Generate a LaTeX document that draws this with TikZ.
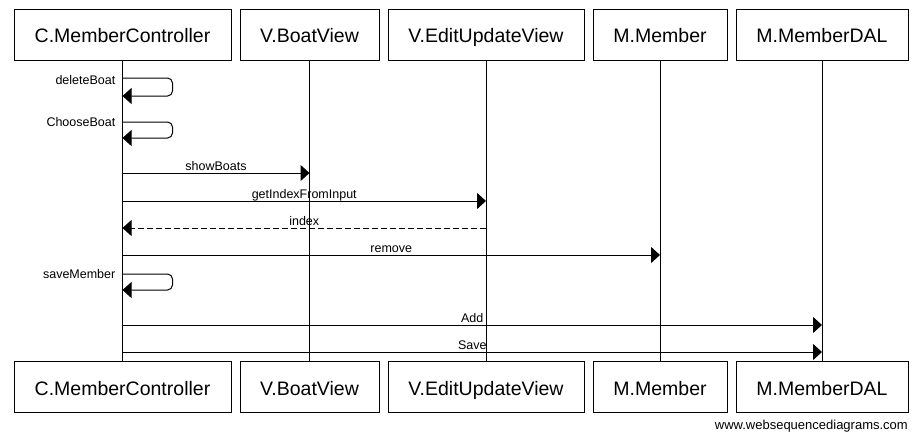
\documentclass[tikz,border=0pt]{standalone}
\usepackage{fontspec}
\setmainfont{Liberation Sans}
\usetikzlibrary{arrows.meta}

\begin{document}
\begin{tikzpicture}[x=1pt, y=-1pt,
    actor/.style={draw, line width=1pt, minimum height=51pt, inner sep=0pt,
        text height=16pt, text depth=0pt, font=\fontsize{19.5}{20}\selectfont},
    life/.style={line width=1pt},
    msg/.style={line width=1pt, -{Triangle[length=9pt, width=16pt]}},
    reply/.style={msg, dash pattern=on 6pt off 3pt},
    lbl/.style={font=\fontsize{12.5}{13}\selectfont, anchor=base, yshift=3pt, inner sep=0pt},
    selflbl/.style={font=\fontsize{12.5}{13}\selectfont, anchor=east, inner sep=0pt}]
    \useasboundingbox (0,0) rectangle (923,437);
    % participants
    \node[actor, minimum width=217pt] (ctrlT) at (122.5,34.5) {C.MemberController};
    \node[actor, minimum width=139pt] (boatT) at (309.5,34.5) {V.BoatView};
    \node[actor, minimum width=196pt] (editT) at (486,34.5) {V.EditUpdateView};
    \node[actor, minimum width=134pt] (membT) at (660,34.5) {M.Member};
    \node[actor, minimum width=172pt] (dalT) at (822,34.5) {M.MemberDAL};
    \node[actor, minimum width=217pt] (ctrlB) at (122.5,387) {C.MemberController};
    \node[actor, minimum width=139pt] (boatB) at (309.5,387) {V.BoatView};
    \node[actor, minimum width=196pt] (editB) at (486,387) {V.EditUpdateView};
    \node[actor, minimum width=134pt] (membB) at (660,387) {M.Member};
    \node[actor, minimum width=172pt] (dalB) at (822,387) {M.MemberDAL};
    % lifelines
    \draw[life] (ctrlT) -- (ctrlB);
    \draw[life] (boatT) -- (boatB);
    \draw[life] (editT) -- (editB);
    \draw[life] (membT) -- (membB);
    \draw[life] (dalT) -- (dalB);
    % self messages
    \coordinate (del1) at (ctrlT |- 0,78);
    \coordinate (del2) at (ctrlT |- 0,96);
    \draw[msg, rounded corners=5pt] (del1) -- ++(50,0) -- ++(0,18) -- (del2);
    \node[selflbl] (delL) at ([xshift=-7pt, yshift=-2pt]del1) {deleteBoat};
    \coordinate (cho1) at (ctrlT |- 0,122);
    \coordinate (cho2) at (ctrlT |- 0,138);
    \draw[msg, rounded corners=5pt] (cho1) -- ++(50,0) -- ++(0,16) -- (cho2);
    \node[selflbl] (choL) at ([xshift=-7pt]cho1) {ChooseBoat};
    \coordinate (sav1) at (ctrlT |- 0,274);
    \coordinate (sav2) at (ctrlT |- 0,290);
    \draw[msg, rounded corners=5pt] (sav1) -- ++(50,0) -- ++(0,16) -- (sav2);
    \node[selflbl] (savL) at ([xshift=-7pt]sav1) {saveMember};
    % calls
    \coordinate (show1) at (ctrlT |- 0,173);
    \coordinate (show2) at (boatT |- 0,173);
    \path[msg] (show1) edge node[lbl] {showBoats} (show2);
    \coordinate (get1) at (ctrlT |- 0,201);
    \coordinate (get2) at (editT |- 0,201);
    \path[msg] (get1) edge node[lbl] {getIndexFromInput} (get2);
    \coordinate (idx1) at (editT |- 0,228);
    \coordinate (idx2) at (ctrlT |- 0,228);
    \path[reply] (idx1) edge node[lbl] {index} (idx2);
    \coordinate (rem1) at (ctrlT |- 0,255);
    \coordinate (rem2) at (membT |- 0,255);
    \path[msg] (rem1) edge node[lbl] {remove} (rem2);
    \coordinate (add1) at (ctrlT |- 0,325);
    \coordinate (add2) at (dalT |- 0,325);
    \path[msg] (add1) edge node[lbl] {Add} (add2);
    \coordinate (save1) at (ctrlT |- 0,352);
    \coordinate (save2) at (dalT |- 0,352);
    \path[msg] (save1) edge node[lbl] {Save} (save2);
    % watermark
    \node[font=\fontsize{13}{14}\selectfont, anchor=base east, inner sep=0pt] (wsd) at (908,429) {www.websequencediagrams.com};
\end{tikzpicture}
\end{document}
